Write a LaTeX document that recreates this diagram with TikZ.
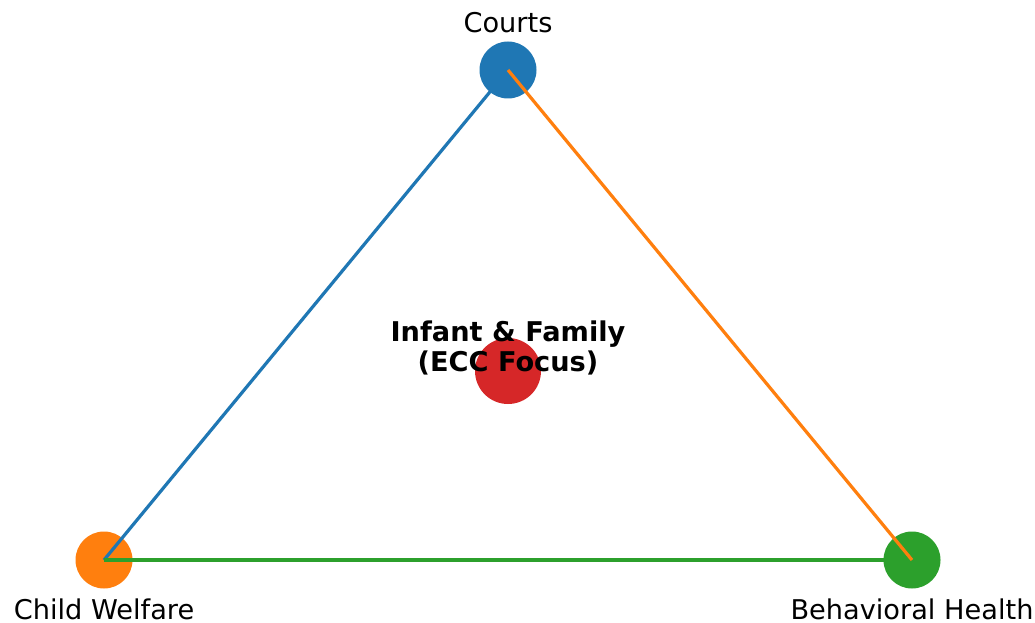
\documentclass[tikz,border=0pt]{standalone}
\usepackage{fontspec}
\setmainfont{DejaVu Sans}
\definecolor{mblue}{HTML}{1F77B4}
\definecolor{morange}{HTML}{FF7F0E}
\definecolor{mgreen}{HTML}{2CA02C}
\definecolor{mred}{HTML}{D62728}
\tikzset{
  hub/.style={circle, inner sep=0pt, minimum size=57pt},
  lbl/.style={font=\fontsize{27.2}{30}\selectfont, inner sep=0pt, anchor=base},
  link/.style={line width=3.2pt},
}
\begin{document}
\begin{tikzpicture}[x=1pt,y=-1pt]
\useasboundingbox (0,0) rectangle (1035,623);
\fill[white] (0,0) rectangle (1035,623);
% child welfare circle first
\node[hub, fill=morange] (cw) at (104,560) {};
\coordinate (c) at (508,70);
\coordinate (b) at (912,560);
\draw[link, mblue] (c) -- (cw.center);
\draw[link, mgreen] (cw.center) -- (b);
\node[hub, fill=mgreen] (bh) at (b) {};
\node[hub, fill=mblue] (co) at (c) {};
\draw[link, morange] (co.center) -- (bh.center);
\node[circle, inner sep=0pt, minimum size=66pt, fill=mred] (ctr) at (508,371) {};
\node[lbl, font=\bfseries\fontsize{27.2}{30}\selectfont, align=center] (ctrl) at (508,371.7) {Infant \& Family\\(ECC Focus)};
\node[lbl] (col) at (508,32.3) {Courts};
\node[lbl, text depth=0pt] (cwl) at (104,619.5) {Child Welfare};
\node[lbl, text depth=0pt] (bhl) at (912,619.5) {Behavioral Health};
\end{tikzpicture}
\end{document}
